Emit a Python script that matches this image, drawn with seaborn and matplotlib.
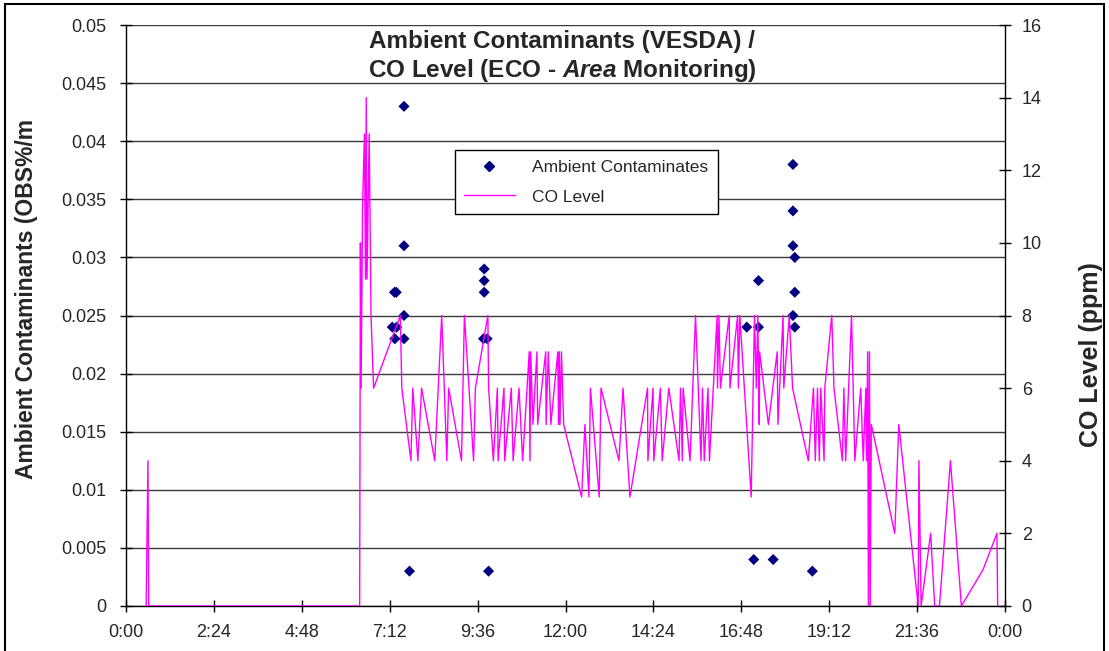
import matplotlib
matplotlib.use("Agg")
import pandas as pd
import matplotlib.pyplot as plt
from matplotlib.lines import Line2D
from matplotlib.patches import Rectangle
import seaborn as sns

# Ambient contaminants (VESDA), hours of day / OBS%/m
amb_hours = [7.59, 7.59, 7.33, 7.38, 7.59, 7.27, 7.39, 7.34, 7.59, 7.74,
             9.78, 9.78, 9.78, 9.76, 9.86, 9.90,
             16.95, 17.27, 17.27, 17.14, 17.67,
             18.21, 18.21, 18.21, 18.26, 18.26, 18.21, 18.26, 18.74]
amb_values = [0.043, 0.031, 0.027, 0.027, 0.025, 0.024, 0.024, 0.023, 0.023, 0.003,
              0.029, 0.028, 0.027, 0.023, 0.023, 0.003,
              0.024, 0.028, 0.024, 0.004, 0.004,
              0.038, 0.034, 0.031, 0.030, 0.027, 0.025, 0.024, 0.003]

# CO level (ECO area monitoring), hours of day / ppm
co_hours = [0.55, 0.60, 0.62, 6.38, 6.40, 6.42, 6.46, 6.51, 6.54, 6.56, 6.58, 6.61, 6.64, 6.69, 6.76,
            7.49, 7.53, 7.78, 7.83, 7.97, 8.07, 8.43, 8.62, 8.76, 8.81, 9.16, 9.24, 9.49, 9.54,
            9.88, 9.90, 10.03, 10.14, 10.16, 10.32, 10.34, 10.52, 10.57, 10.73, 10.83,
            11.01, 11.03, 11.05, 11.11, 11.22, 11.24, 11.46, 11.47, 11.53, 11.60,
            11.79, 11.81, 11.83, 11.85, 11.89, 11.95, 12.44, 12.53, 12.64, 12.68,
            12.92, 12.97, 13.46, 13.57, 13.76, 14.24, 14.25, 14.39, 14.41, 14.59, 14.64, 14.82,
            15.10, 15.14, 15.19, 15.21, 15.40, 15.55, 15.70, 15.74, 15.79, 15.89, 15.93,
            16.14, 16.15, 16.19, 16.23, 16.47, 16.49, 16.70, 16.72, 16.76,
            17.07, 17.16, 17.21, 17.25, 17.29, 17.30, 17.54, 17.78, 17.80, 17.94, 17.96,
            18.11, 18.20, 18.63, 18.77, 18.82, 18.88, 18.93, 18.97, 19.06, 19.08,
            19.27, 19.33, 19.56, 19.60, 19.65, 19.81, 19.90, 20.06, 20.13, 20.20, 20.22,
            20.25, 20.27, 20.30, 20.32, 20.35, 20.99, 21.10, 21.63, 21.65, 21.71,
            21.97, 22.08, 22.21, 22.51, 22.81, 23.40, 23.78, 23.80]
co_ppm = [0, 4, 0, 0, 10, 6, 11, 13, 9, 14, 9, 11, 13, 8, 6,
          8, 6, 4, 6, 4, 6, 4, 8, 4, 6, 4, 8, 4, 6,
          8, 6, 4, 6, 4, 6, 4, 6, 4, 6, 4,
          7, 4, 7, 5, 7, 5, 7, 5, 7, 5,
          7, 5, 7, 5, 7, 5, 3, 5, 3, 6,
          3, 6, 4, 6, 3, 6, 4, 6, 4, 6, 4, 6,
          4, 6, 4, 6, 4, 8, 4, 6, 4, 6, 4,
          8, 6, 8, 6, 8, 6, 8, 6, 8,
          3, 8, 6, 8, 5, 7, 5, 7, 5, 8, 6,
          8, 6, 4, 6, 4, 6, 4, 6, 4, 6,
          8, 6, 4, 6, 4, 8, 4, 6, 4, 6, 4,
          7, 0, 7, 0, 5, 2, 5, 0, 4, 0,
          2, 0, 0, 4, 0, 1, 2, 0]

x_ticks = [0, 2.4, 4.8, 7.2, 9.6, 12.0, 14.4, 16.8, 19.2, 21.6, 24.0]
x_tick_labels = ["0:00", "2:24", "4:48", "7:12", "9:36", "12:00",
                 "14:24", "16:48", "19:12", "21:36", "0:00"]
left_ticks = [0, 0.005, 0.01, 0.015, 0.02, 0.025, 0.03, 0.035, 0.04, 0.045, 0.05]
left_tick_labels = ["0", "0.005", "0.01", "0.015", "0.02", "0.025",
                    "0.03", "0.035", "0.04", "0.045", "0.05"]
right_ticks = [0, 2, 4, 6, 8, 10, 12, 14, 16]

sns.set_style("white")
plt.rcParams["font.family"] = ["Liberation Sans", "DejaVu Sans"]
plt.rcParams["mathtext.fontset"] = "custom"
plt.rcParams["mathtext.it"] = "Liberation Sans:italic:bold"
plt.rcParams["mathtext.rm"] = "Liberation Sans:bold"

amb_df = pd.DataFrame({"hour": amb_hours, "value": amb_values})
co_df = pd.DataFrame({"hour": co_hours, "ppm": co_ppm})

W, H = 1109, 651
fig = plt.figure(figsize=(W / 100, H / 100), dpi=100)
ax = fig.add_axes([126 / W, 1 - 606 / H, (1005 - 126) / W, (606 - 25) / H])
ax2 = ax.twinx()

ax.set_axisbelow(True)
ax.yaxis.grid(True, color="#3a3a3a", lw=1)

sns.scatterplot(data=amb_df, x="hour", y="value", ax=ax, marker="D",
                color="#000080", s=32, edgecolor="none", legend=False, zorder=3)
sns.lineplot(data=co_df, x="hour", y="ppm", ax=ax2, color="#FF00FF", lw=1,
             sort=False, estimator=None, legend=False)

ax.set_xlim(0, 24)
ax.set_ylim(0, 0.05)
ax2.set_ylim(0, 16)
ax.set_xticks(x_ticks)
ax.set_xticklabels(x_tick_labels)
ax.set_yticks(left_ticks)
ax.set_yticklabels(left_tick_labels)
ax2.set_yticks(right_ticks)

for a in (ax, ax2):
    a.spines["top"].set_visible(False)
    for s in a.spines.values():
        s.set_color("black")
        s.set_linewidth(1)
ax.spines["right"].set_visible(False)
ax2.spines["left"].set_visible(False)
ax2.spines["bottom"].set_visible(False)

ax.tick_params(axis="both", direction="inout", length=8, width=1, color="black",
               labelsize=13, bottom=True, left=True)
ax.tick_params(axis="y", pad=10)
ax.tick_params(axis="x", pad=9)
ax2.tick_params(axis="y", direction="inout", length=8, width=1, color="black",
                labelsize=13, pad=8, right=True)

ax.set_xlabel("")
ax.set_ylabel("Ambient Contaminants (OBS%/m", fontsize=16.5, fontweight="bold")
ax.yaxis.set_label_coords(-0.100, 0.528)
ax2.set_ylabel("CO Level (ppm)", fontsize=18, fontweight="bold")
ax2.yaxis.set_label_coords(1.084, 0.432)

ax2.text(0.496, 0.992, "Ambient Contaminants (VESDA) /\nCO Level (ECO - $\\mathit{Area}$ Monitoring)",
         transform=ax.transAxes, ha="center", va="top", fontsize=17.5,
         fontweight="bold", linespacing=1.2)

handles = [Line2D([], [], marker="D", color="#000080", ls="none", markersize=5.5),
           Line2D([], [], color="#FF00FF", lw=1)]
leg = ax2.legend(handles, ["Ambient Contaminates", "CO Level"], loc="upper left",
                 bbox_to_anchor=(0.374, 0.785), borderaxespad=0, frameon=True,
                 fancybox=False, edgecolor="black", framealpha=1, fontsize=12.5,
                 handlelength=2.9, handletextpad=1.0, labelspacing=0.85, borderpad=0.55)
leg.get_frame().set_linewidth(1)

fig.patches.append(Rectangle((5 / W, -0.1), 1099 / W, 1.1 - 4 / H,
                             transform=fig.transFigure, fill=False,
                             edgecolor="black", lw=1.5))

fig.savefig("out.png", dpi=100)
